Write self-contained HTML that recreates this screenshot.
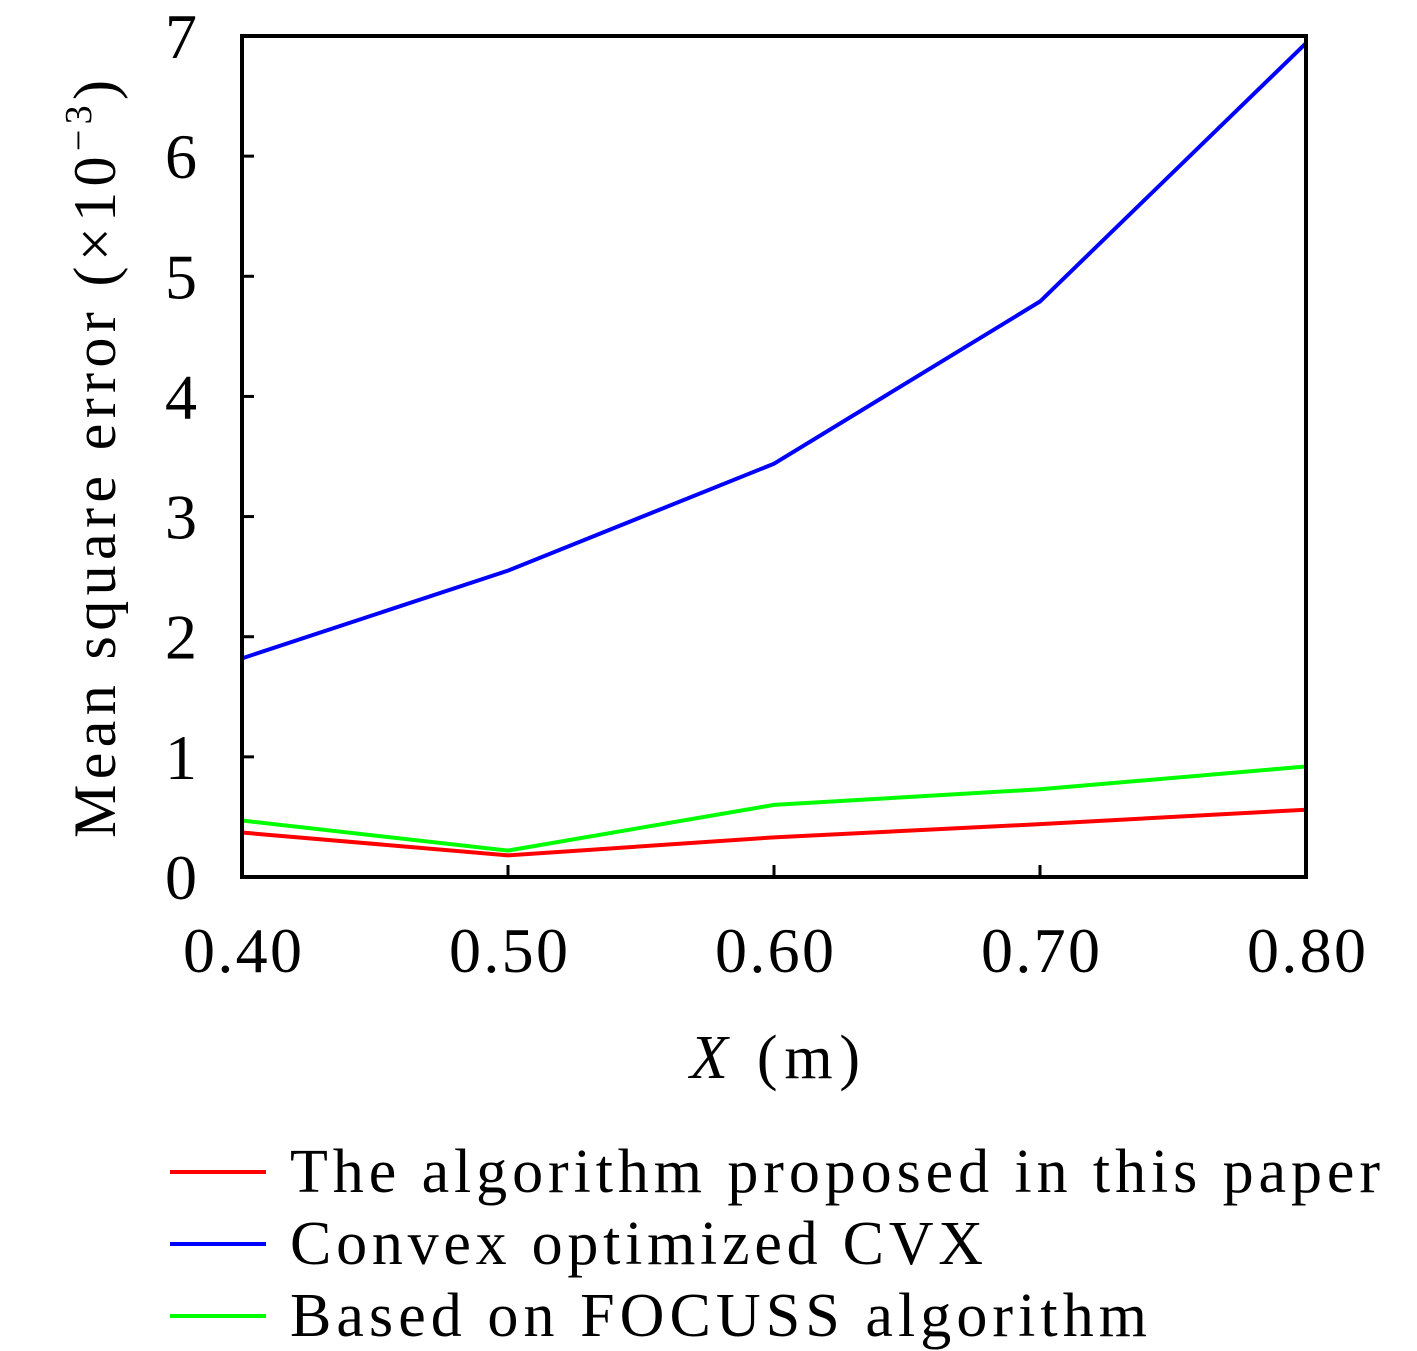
<!DOCTYPE html>
<html><head><meta charset="utf-8"><style>
html,body{margin:0;padding:0;background:#fff;}
svg{display:block;}
text{font-family:"Liberation Serif","DejaVu Serif",serif;fill:#000;}
</style></head><body>
<svg id="chart" width="1417" height="1351" viewBox="0 0 1417 1351" xmlns="http://www.w3.org/2000/svg">
<g id="grid"></g>
<g id="series"></g>
<rect x="242" y="36" width="1064" height="841" fill="none" stroke="#000" stroke-width="4"/>
<g id="ticks"></g>
<text transform="translate(115,459) rotate(-90)" text-anchor="middle" font-size="60" textLength="758" lengthAdjust="spacing">Mean square error (×10<tspan font-size="38" dy="-24">−3</tspan><tspan dy="24">)</tspan></text>
<text x="690" y="1078" font-size="62" textLength="170" lengthAdjust="spacing"><tspan font-style="italic">X</tspan> (m)</text>
<g>
<line x1="170" y1="1172" x2="266" y2="1172" stroke="#ff0000" stroke-width="4"/>
<text x="290" y="1192" font-size="62" textLength="1090" lengthAdjust="spacing">The algorithm proposed in this paper</text>
<line x1="170" y1="1244" x2="266" y2="1244" stroke="#0000ff" stroke-width="4"/>
<text x="290" y="1264" font-size="62" textLength="693" lengthAdjust="spacing">Convex optimized CVX</text>
<line x1="170" y1="1316" x2="266" y2="1316" stroke="#00ff00" stroke-width="4"/>
<text x="290" y="1336" font-size="62" textLength="857" lengthAdjust="spacing">Based on FOCUSS algorithm</text>
</g>
</svg>
<script>
const categories = [0.40, 0.50, 0.60, 0.70, 0.80];
const xTickLabels = ["0.40", "0.50", "0.60", "0.70", "0.80"];
const yTicks = [0, 1, 2, 3, 4, 5, 6, 7];
const proposedValues = [0.37, 0.18, 0.33, 0.44, 0.56];
const cvxValues = [1.82, 2.55, 3.44, 4.79, 6.94];
const focussValues = [0.47, 0.22, 0.60, 0.73, 0.92];

const NS = "http://www.w3.org/2000/svg";
const X0 = 242, X1 = 1306, Y0 = 877, Y1 = 36;
function xScale(v){ return X0 + (v - 0.4) / 0.4 * (X1 - X0); }
function yScale(v){ return Y0 - v / 7 * (Y0 - Y1); }

const ticks = document.getElementById('ticks');
categories.forEach((c, i) => {
  const t = document.createElementNS(NS, 'line');
  t.setAttribute('x1', xScale(c)); t.setAttribute('x2', xScale(c));
  t.setAttribute('y1', Y0); t.setAttribute('y2', Y0 - 12);
  t.setAttribute('stroke', '#000'); t.setAttribute('stroke-width', '3');
  
  
  ticks.appendChild(t);
  const l = document.createElementNS(NS, 'text');
  l.setAttribute('x', xScale(c) - 59); l.setAttribute('y', 972);
  l.setAttribute('font-size', '64');
  l.setAttribute('textLength', '119');
  l.setAttribute('lengthAdjust', 'spacing');
  l.textContent = xTickLabels[i];
  
  
  ticks.appendChild(l);
});
yTicks.forEach(v => {
  const t = document.createElementNS(NS, 'line');
  t.setAttribute('x1', X0); t.setAttribute('x2', X0 + 12);
  t.setAttribute('y1', yScale(v)); t.setAttribute('y2', yScale(v));
  t.setAttribute('stroke', '#000'); t.setAttribute('stroke-width', '3');
  
  
  ticks.appendChild(t);
  const l = document.createElementNS(NS, 'text');
  l.setAttribute('x', 197); l.setAttribute('y', yScale(v) + 22);
  l.setAttribute('text-anchor', 'end'); l.setAttribute('font-size', '64');
  l.textContent = String(v);
  
  
  ticks.appendChild(l);
});

const seriesG = document.getElementById('series');
function drawSeries(vals, color, name){
  const p = document.createElementNS(NS, 'polyline');
  p.setAttribute('points', vals.map((v, i) => xScale(categories[i]) + ',' + yScale(v)).join(' '));
  p.setAttribute('fill', 'none'); p.setAttribute('stroke', color); p.setAttribute('stroke-width', '4');
  
  
  seriesG.appendChild(p);
}
drawSeries(cvxValues, '#0000ff', 'cvx-line');
drawSeries(focussValues, '#00ff00', 'focuss-line');
drawSeries(proposedValues, '#ff0000', 'proposed-line');
</script>
</body></html>
